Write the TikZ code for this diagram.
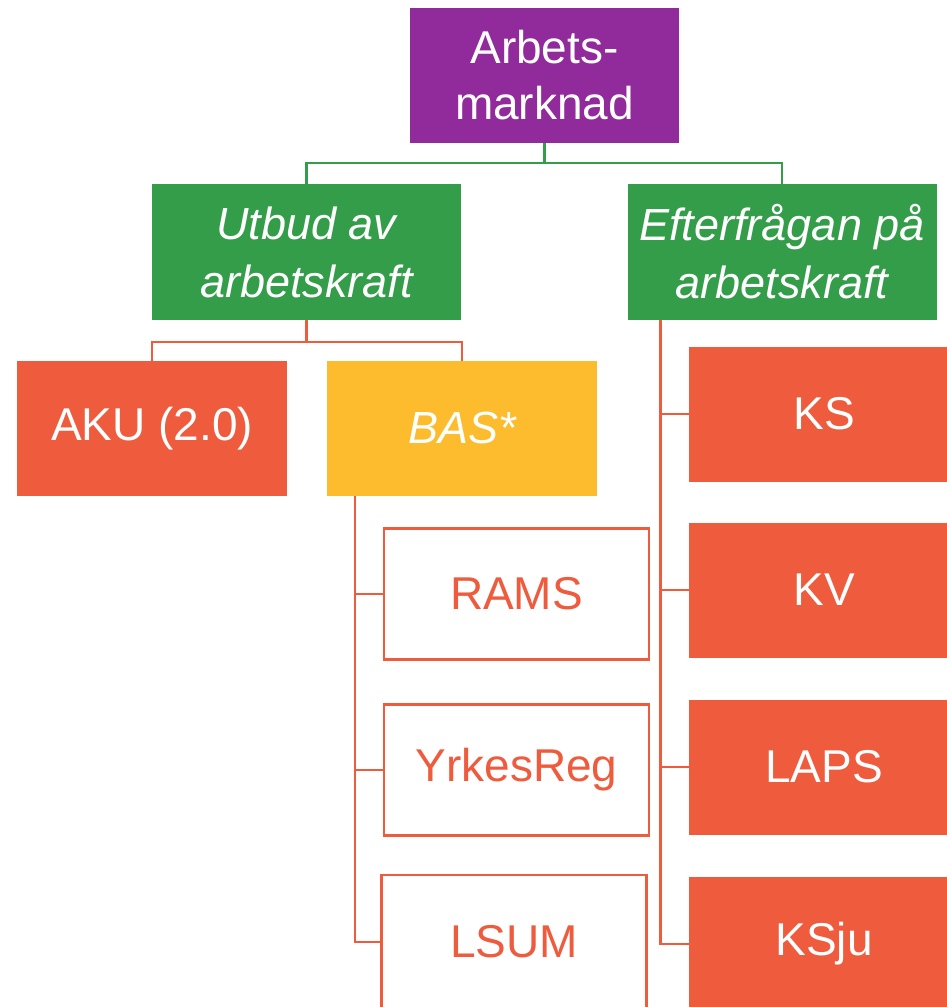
\documentclass[tikz,border=0pt]{standalone}
\usepackage{fontspec}
\setmainfont{Liberation Sans}
\usepackage{tikz}
\usetikzlibrary{positioning,calc}
\usepackage{xcolor}
\definecolor{topcolor}{RGB}{145, 42, 155}
\definecolor{sidecolor}{RGB}{52, 157, 73}
\definecolor{surveycolor}{RGB}{239, 91, 61}
\definecolor{regcolor}{RGB}{253, 188, 45}

\begin{document}
\begin{tikzpicture}[
    x=1pt, y=-1pt,
    box/.style={rectangle, inner sep=0pt, align=center, text=white, font=\fontsize{46}{56}\selectfont},
    pnode/.style={box, fill=topcolor, minimum width=269pt, minimum height=135pt},
    gnode/.style={box, fill=sidecolor, minimum width=309pt, minimum height=136pt, font=\fontsize{45}{58}\selectfont\itshape},
    onode/.style={box, fill=surveycolor, minimum width=270pt, minimum height=135pt},
    ynode/.style={box, fill=regcolor, minimum width=270pt, minimum height=135pt, font=\fontsize{45}{56}\selectfont\itshape},
    wnode/.style={box, draw=surveycolor, line width=2.5pt, fill=white, text=surveycolor, minimum width=265pt, minimum height=131pt},
    gedge/.style={draw=sidecolor, line width=2.5pt},
    oedge/.style={draw=surveycolor, line width=2.5pt}
]
    \useasboundingbox (0,0) rectangle (946,1007);

    % Top
    \node[pnode] (arb) at (544.5, 75.5) {Arbets-\\marknad};

    % Supply and demand
    \node[gnode] (utb) at (306.5, 252) {Utbud av\\arbetskraft};
    \node[gnode] (eft) at (782, 252) {Efterfrågan på\\arbetskraft};

    % Supply side
    \node[onode] (aku) at (152, 428.5) {AKU (2.0)};
    \node[ynode] (bas) at (462, 428.5) {BAS*};
    \node[wnode] (rams) at (516.5, 594) {RAMS};
    \node[wnode] (yrk) at (516.5, 770) {YrkesReg};
    \node[wnode, minimum height=134pt] (lsum) at (514, 942) {LSUM};

    % Demand side
    \node[onode] (ks) at (824, 414) {KS};
    \node[onode] (kv) at (824, 590) {KV};
    \node[onode] (laps) at (824, 767) {LAPS};
    \node[onode] (ksju) at (824, 944) {KSju};

    % === EDGES ===

    % Top -> supply/demand
    \draw[gedge] (arb.south) -- ++(0,20) -| (utb.north);
    \draw[gedge] (arb.south) -- ++(0,20) -| (eft.north);

    % Supply -> AKU, BAS
    \draw[oedge] (utb.south) -- ++(0,22) -| (aku.north);
    \draw[oedge] (utb.south) -- ++(0,22) -| (bas.north);

    % BAS -> registers
    \foreach \r in {rams,yrk,lsum} {
        \draw[oedge] ([xshift=28pt]bas.south west) |- (\r.west);
    }

    % Demand -> surveys
    \foreach \s in {ks,kv,laps,ksju} {
        \draw[oedge] ([xshift=33pt]eft.south west) |- (\s.west);
    }
\end{tikzpicture}
\end{document}
